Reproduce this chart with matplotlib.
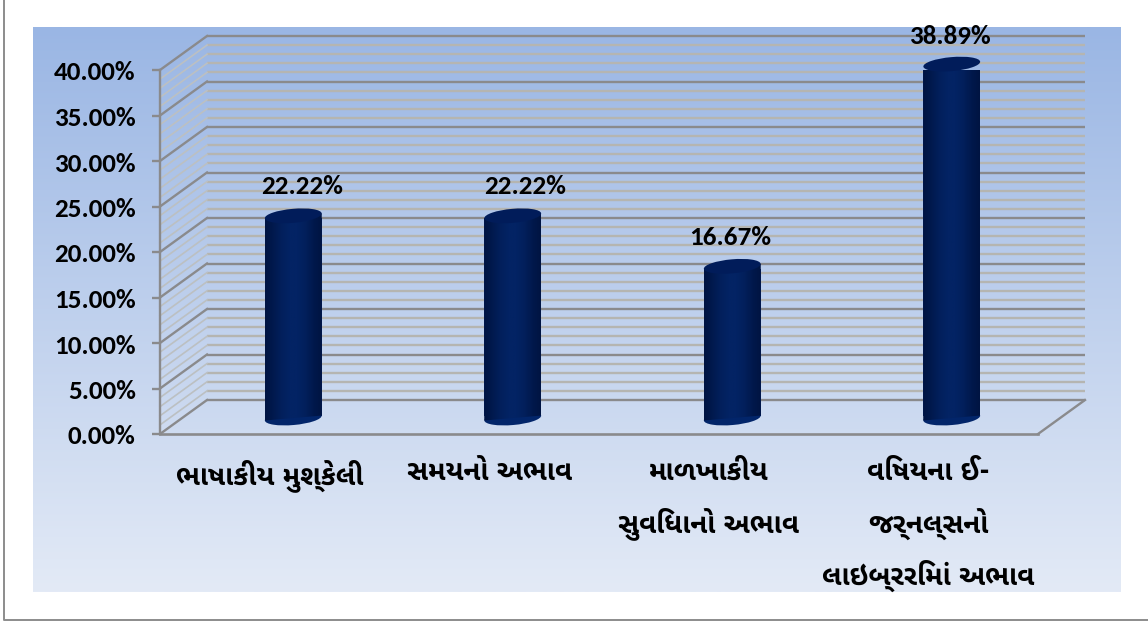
# -*- coding: utf-8 -*-
import numpy as np
import matplotlib
matplotlib.use('Agg')
import matplotlib.pyplot as plt
from matplotlib.patches import Ellipse, Polygon
from matplotlib.ticker import MultipleLocator, FuncFormatter
from matplotlib.transforms import IdentityTransform, ScaledTranslation

categories = ['ભાષાકીય મુશ્કેલી', 'સમયનો અભાવ', 'માળખાકીય\nસુવિધાનો અભાવ', 'વિષયના ઈ-\nજર્નલ્સનો\nલાઇબ્રરિમાં અભાવ']
values = [22.22, 22.22, 16.67, 38.89]
value_labels = ['22.22%', '22.22%', '16.67%', '38.89%']
y_max = 40
major_step = 5
minor_step = 1

W, H = 1148, 622
# front plane of the fake 3d box, in pixels
left, right, bottom, top = 160, 1038, 434, 70
depth_x, depth_y = 47, 34
num_font = ['Carlito', 'Open Sans', 'DejaVu Sans']
guj_font = ['Noto Sans Gujarati UI', 'Noto Sans Gujarati', 'DejaVu Sans']

fig = plt.figure(figsize=(W / 100, H / 100), dpi=100)

# background panel
bg = fig.add_axes([0, 0, 1, 1], zorder=0)
grad = np.linspace(0, 1, 256)[:, None, None]
c1 = np.array([154, 182, 228]) / 255
c2 = np.array([227, 234, 246]) / 255
bg.imshow(c1 + (c2 - c1) * grad, extent=[33, 1121, 592, 27], aspect='auto')
bg.set_xlim(0, W)
bg.set_ylim(H, 0)
bg.axis('off')
bg.plot([4, 4, 1148], [0, 620, 620], color='#8c8c8c', lw=1.4)

ax = fig.add_axes([left / W, 1 - bottom / H, (right - left) / W, (bottom - top) / H], zorder=1)
ax.patch.set_alpha(0)
n = len(categories)
ax.set_xlim(0, n)
ax.set_ylim(0, y_max)
dx = depth_x / (right - left) * n
dy = depth_y / (bottom - top) * y_max

major = '#8a8a8c'
minor = '#b5b5b1'
side_minor = '#bcc0c2'

# walls
for v in np.arange(0, y_max + minor_step, minor_step):
    is_major = v % major_step == 0
    ax.plot([dx, n + dx], [v + dy, v + dy], color=major if is_major else minor,
            lw=1.7, clip_on=False, zorder=1, solid_capstyle='butt')
    ax.plot([0, dx], [v, v + dy], color=major if is_major else side_minor,
            lw=1.7 if is_major else 1.2, clip_on=False, zorder=1)

# floor edge
ax.plot([n, n + dx], [0, dy], color=major, lw=1.7, clip_on=False, zorder=1)

# cylinders
bar_px = 57
tilt = 5
bar_w = bar_px / (right - left) * n
ell_px = 14
t = bar_px / 2 * np.tan(np.radians(tilt)) / (bottom - top) * y_max
shade = np.array([0.0, 0.35, 0.75, 1.0, 1.0, 0.75, 0.3, 0.0])
profile = np.interp(np.linspace(0, 1, 60), np.linspace(0, 1, len(shade)), shade)
dark = np.array([0, 20, 66]) / 255
light = np.array([3, 35, 100]) / 255
strip = (dark + (light - dark) * profile[:, None])[None, :, :]
base = 0.47 * dy
label_dx = [9, 12, -2, -2]
label_dy = [29, 29, 29, 28]
for i, v in enumerate(values):
    cx = i + 0.5 + dx / 2
    xa, xb = cx - bar_w / 2, cx + bar_w / 2
    ax.bar(cx, v - 2 * t, bar_w, bottom=base + t, color='#02205f', zorder=3)
    im = ax.imshow(strip, extent=[xa, xb, base - t, base + v + t], aspect='auto', zorder=3.1)
    im.set_clip_path(Polygon([(xa, base - t), (xb, base + t), (xb, base + v + t), (xa, base + v - t)],
                             transform=ax.transData))
    ax.set_xlim(0, n)
    ax.set_ylim(0, y_max)
    foot = ax.transData.transform((cx, base))
    head = ax.transData.transform((cx, base + v))
    ax.add_patch(Ellipse(foot, bar_px, ell_px, angle=tilt, facecolor='#02256a', edgecolor='none',
                         transform=IdentityTransform(), zorder=3, clip_on=False))
    ax.add_patch(Ellipse(head, bar_px, ell_px, angle=tilt, facecolor='#011c5a', edgecolor='none',
                         transform=IdentityTransform(), zorder=3.2, clip_on=False))
    ax.annotate(value_labels[i], (cx, base + v), xytext=(label_dx[i], label_dy[i]), textcoords='offset pixels',
                ha='center', va='center', fontsize=19.5, fontweight='bold', family=num_font,
                color='black', zorder=5, annotation_clip=False)

# axes
for s in ['top', 'right']:
    ax.spines[s].set_visible(False)
ax.spines['left'].set_color(major)
ax.spines['bottom'].set_color(major)
ax.spines['left'].set_linewidth(1.7)
ax.spines['bottom'].set_linewidth(1.9)
ax.yaxis.set_major_locator(MultipleLocator(major_step))
ax.yaxis.set_major_formatter(FuncFormatter(lambda v, p: '%.2f%%' % v))
ax.tick_params(axis='y', length=5.5, width=1.7, color=major, pad=12, labelsize=19.5)
nudge = ScaledTranslation(0, -1 / 100, fig.dpi_scale_trans)
for lab in ax.get_yticklabels():
    lab.set_fontweight('bold')
    lab.set_family(num_font)
    lab.set_transform(lab.get_transform() + nudge)
ax.set_xticks(np.arange(n) + 0.5)
ax.set_xticklabels(categories, fontsize=20, fontweight='bold', linespacing=1.81, family=guj_font)
ax.tick_params(axis='x', length=0, pad=18)

fig.savefig('out.png', dpi=100)
